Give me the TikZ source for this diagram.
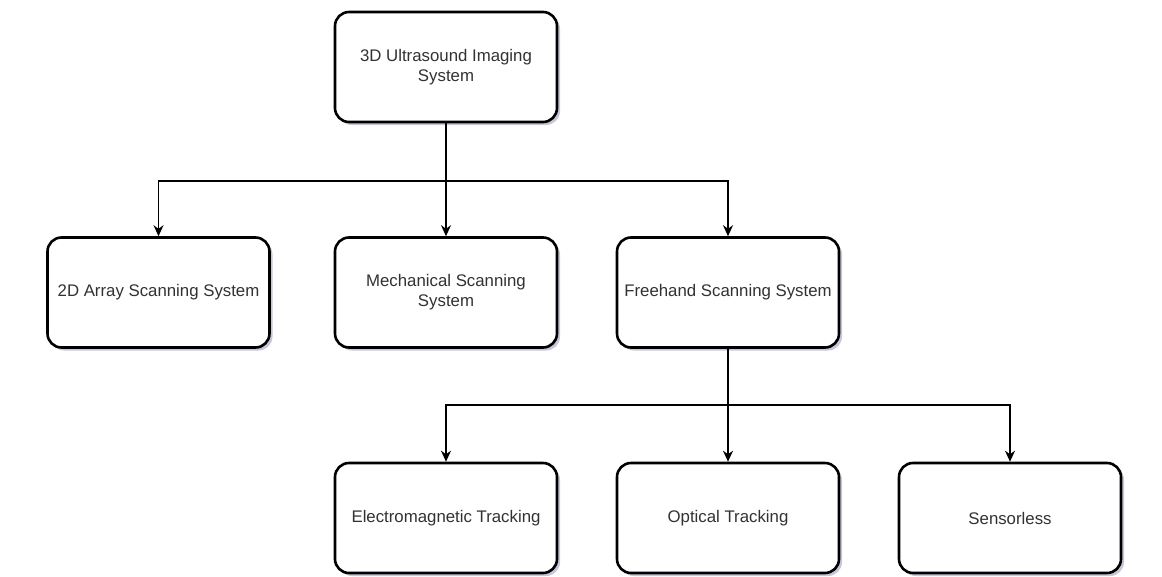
\documentclass[tikz,border=0pt]{standalone}
\usepackage{fontspec}
\setmainfont{Liberation Sans}
\usetikzlibrary{arrows.meta,shadows}
\definecolor{shadowcol}{RGB}{185,185,205}
\definecolor{txt}{RGB}{50,50,50}
\tikzset{
  box/.style={draw=black, line width=2.6pt, rounded corners=14pt, fill=white,
    minimum width=222pt, minimum height=110pt, align=center, text=txt,
    font=\fontsize{16.8pt}{20pt}\selectfont,
    drop shadow={shadow xshift=3pt, shadow yshift=-3pt, fill=shadowcol, opacity=0.8}},
  conn/.style={draw=black, line width=1.3pt},
  arr/.style={conn, -{Stealth[length=11pt,width=10pt]}}
}
\begin{document}
\begin{tikzpicture}[x=1pt,y=-1pt]
\useasboundingbox (0,0) rectangle (1162,576);
\node[box] (top) at (446,67) {3D Ultrasound Imaging\\System};
\node[box] (arr2d) at (158.5,292.5) {2D Array Scanning System};
\node[box] (mech) at (446,292.5) {Mechanical Scanning\\System};
\node[box] (free) at (728,292.5) {Freehand Scanning System};
\node[box] (em) at (446,518) {Electromagnetic Tracking};
\node[box] (opt) at (728,518) {Optical Tracking};
\node[box] (sens) at (1010,518) {Sensorless};
\coordinate (j1) at (446,181);
\coordinate (j2) at (728,405);
\draw[conn] (top.south) -- (j1);
\draw[arr] (j1) -| (arr2d.north);
\draw[arr] (j1) -| (mech.north);
\draw[arr] (j1) -| (free.north);
\draw[conn] (free.south) -- (j2);
\draw[arr] (j2) -| (em.north);
\draw[arr] (j2) -| (opt.north);
\draw[arr] (j2) -| (sens.north);
\end{tikzpicture}
\end{document}
